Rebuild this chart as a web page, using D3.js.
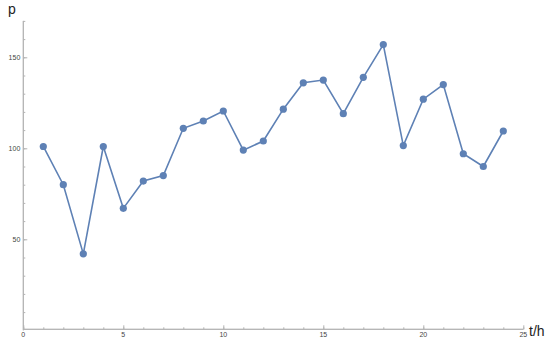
<!DOCTYPE html>
<html><head><meta charset="utf-8">
<script src="https://cdn.jsdelivr.net/npm/d3@7"></script>
<style>body{margin:0;background:#fff}svg{display:block}</style>
</head><body>
<svg id="c" width="550" height="347"></svg>
<script>
const hours = [1,2,3,4,5,6,7,8,9,10,11,12,13,14,15,16,17,18,19,20,21,22,23,24];
const pValues = [101,80,42,101,67,82,85,111,115,120.5,99,104,121.5,136,137.5,119,139,157,101.5,127,135,97,90,109.5];
const xMajorTicks = [0,5,10,15,20,25];
const yMajorTicks = [50,100,150];
const xLabel = "t/h", yLabel = "p";

const svg = d3.select("#c");
const x = d3.scaleLinear().domain([0,25]).range([23.3,523.3]);
const y = d3.scaleLinear().domain([0,170]).range([330.3,20.9]);
const axisColor = "#b3b3b3", textColor = "#444";

// x axis
const gx = svg.append("g").attr("transform",`translate(0,${y(0)-1})`);
gx.call(d3.axisTop(x).tickValues(d3.range(0,26,1)).tickSize(2).tickFormat(""));
gx.call(g=>g.selectAll("line").attr("stroke",axisColor));
const gx2 = svg.append("g").attr("transform",`translate(0,${y(0)-1})`);
gx2.call(d3.axisTop(x).tickValues(xMajorTicks).tickSize(4).tickFormat(""));
[gx,gx2].forEach(g=>{g.select(".domain").attr("stroke",axisColor).attr("d",`M${x(0)},0H${x(25)}`);g.selectAll("line").attr("stroke",axisColor);});
svg.append("g").selectAll("text").data(xMajorTicks).join("text")
  .attr("x",d=>x(d)).attr("y",y(0)+7).attr("text-anchor","middle")
  .attr("font-family","Liberation Sans, Arial, sans-serif").attr("font-size",7).attr("fill",textColor)
  .text(d=>d);

// y axis
const gy = svg.append("g").attr("transform",`translate(${x(0)},0)`);
gy.call(d3.axisRight(y).tickValues(d3.range(10,171,10)).tickSize(2).tickFormat(""));
const gy2 = svg.append("g").attr("transform",`translate(${x(0)},0)`);
gy2.call(d3.axisRight(y).tickValues(yMajorTicks).tickSize(4).tickFormat(""));
[gy,gy2].forEach(g=>{g.select(".domain").attr("stroke",axisColor).attr("d",`M0,${y(0)}V${y(170)}`);g.selectAll("line").attr("stroke",axisColor);});
svg.append("g").selectAll("text").data(yMajorTicks).join("text")
  .attr("x",x(0)-3).attr("y",d=>y(d)+2.5).attr("text-anchor","end")
  .attr("font-family","Liberation Sans, Arial, sans-serif").attr("font-size",7).attr("fill",textColor)
  .text(d=>d);

// labels
svg.append("text").attr("x",8).attr("y",14).attr("font-family","Liberation Sans, Arial, sans-serif")
  .attr("font-size",14).attr("fill","#222").text(yLabel);
svg.append("text").attr("x",529).attr("y",336).attr("font-family","Liberation Sans, Arial, sans-serif")
  .attr("font-size",14).attr("fill","#222").text(xLabel);

// data
const data = hours.map((h,i)=>({h, p:pValues[i]}));
const col = "#5e81b5";
svg.append("path").datum(data).attr("fill","none").attr("stroke",col).attr("stroke-width",1.6)
  .attr("d",d3.line().x(d=>x(d.h)).y(d=>y(d.p)));
svg.append("g").selectAll("circle").data(data).join("circle")
  .attr("cx",d=>x(d.h)).attr("cy",d=>y(d.p)).attr("r",3.6).attr("fill",col);
</script>
</body></html>
